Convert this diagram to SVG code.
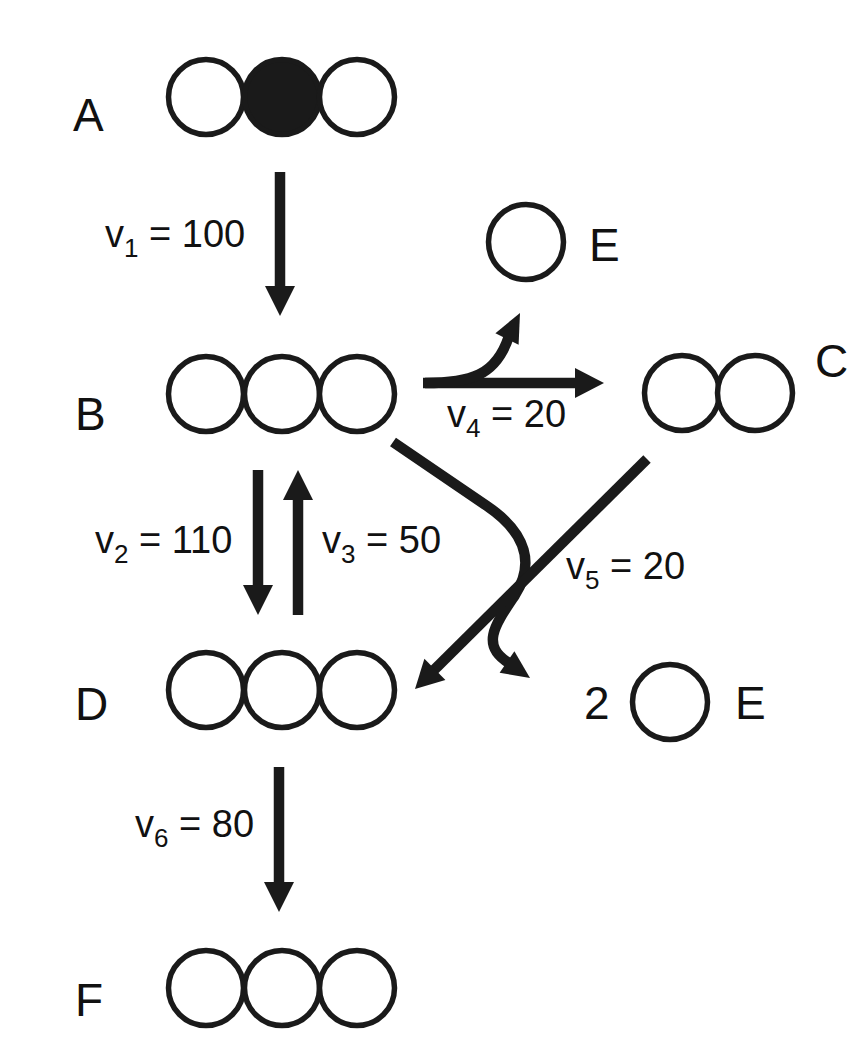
<svg xmlns="http://www.w3.org/2000/svg" width="858" height="1056" viewBox="0 0 858 1056">
<style>
.c{fill:#fff;stroke:#1a1a1a;stroke-width:5.5}
.k{fill:#1a1a1a;stroke:#1a1a1a;stroke-width:5.5}
.lab{font-family:"Liberation Sans",Arial,sans-serif;font-size:46px;fill:#111}
.r{font-family:"Liberation Sans",Arial,sans-serif;font-size:38px;fill:#111}
.sub{font-size:26px}
.ln{fill:none;stroke:#1a1a1a;stroke-width:10.5}
.hd{fill:#1a1a1a;stroke:none}
</style>
<rect width="858" height="1056" fill="#fff"/>
<g id="A">
<circle class="c" cx="206" cy="97" r="37.5"/>
<circle class="k" cx="282" cy="97" r="37.5"/>
<circle class="c" cx="357" cy="97" r="37.5"/>
<text class="lab" x="73" y="131">A</text>
</g>
<g id="B">
<circle class="c" cx="206" cy="394" r="37.5"/>
<circle class="c" cx="282" cy="394" r="37.5"/>
<circle class="c" cx="357" cy="394" r="37.5"/>
<text class="lab" x="75" y="430">B</text>
</g>
<g id="C">
<circle class="c" cx="682" cy="393" r="37.5"/>
<circle class="c" cx="755" cy="393" r="37.5"/>
<text class="lab" x="815" y="377">C</text>
</g>
<g id="E1">
<circle class="c" cx="526" cy="242" r="37.5"/>
<text class="lab" x="589" y="261">E</text>
</g>
<g id="D">
<circle class="c" cx="206" cy="690" r="37.5"/>
<circle class="c" cx="282" cy="690" r="37.5"/>
<circle class="c" cx="357" cy="690" r="37.5"/>
<text class="lab" x="75" y="720">D</text>
</g>
<g id="E2">
<text class="lab" x="584" y="719">2</text>
<circle class="c" cx="670" cy="702" r="37.5"/>
<text class="lab" x="735" y="719">E</text>
</g>
<g id="F">
<circle class="c" cx="206" cy="988" r="37.5"/>
<circle class="c" cx="282" cy="988" r="37.5"/>
<circle class="c" cx="357" cy="988" r="37.5"/>
<text class="lab" x="75" y="1016">F</text>
</g>
<g id="connectors">
<line class="ln" x1="280" y1="172" x2="280" y2="288"/>
<polygon class="hd" points="265,286 295,286 280,316"/>
<line class="ln" x1="258" y1="470" x2="258" y2="587"/>
<polygon class="hd" points="243,585 273,585 258,615"/>
<line class="ln" x1="298" y1="615" x2="298" y2="498"/>
<polygon class="hd" points="283,500 313,500 298,470"/>
<line class="ln" x1="279" y1="767" x2="279" y2="884"/>
<polygon class="hd" points="264,882 294,882 279,912"/>
<line class="ln" x1="423" y1="383" x2="577" y2="383"/>
<polygon class="hd" points="575,368 575,398 604,383"/>
<path class="ln" d="M425,383 C470,383 496,376 509,336"/>
<polygon class="hd" points="495.4,333.2 518.6,344.8 520,313"/>
<path class="ln" d="M393,442 L487,506 C528,534 534,565 515,595 C495,625 480,645 509,663"/>
<polygon class="hd" points="499.6,672.7 514.4,651.3 530,678"/>
<line class="ln" x1="647" y1="459" x2="433" y2="671"/>
<polygon class="hd" points="445.4,679.9 424.4,658.7 415,689"/>
<text class="r" x="105" y="247">v<tspan class="sub" dy="10">1</tspan><tspan dy="-10"> = 100</tspan></text>
<text class="r" x="95" y="553">v<tspan class="sub" dy="10">2</tspan><tspan dy="-10"> = 110</tspan></text>
<text class="r" x="322" y="553">v<tspan class="sub" dy="10">3</tspan><tspan dy="-10"> = 50</tspan></text>
<text class="r" x="447" y="427">v<tspan class="sub" dy="10">4</tspan><tspan dy="-10"> = 20</tspan></text>
<text class="r" x="566" y="579">v<tspan class="sub" dy="10">5</tspan><tspan dy="-10"> = 20</tspan></text>
<text class="r" x="135" y="837">v<tspan class="sub" dy="10">6</tspan><tspan dy="-10"> = 80</tspan></text>
</g>
</svg>
